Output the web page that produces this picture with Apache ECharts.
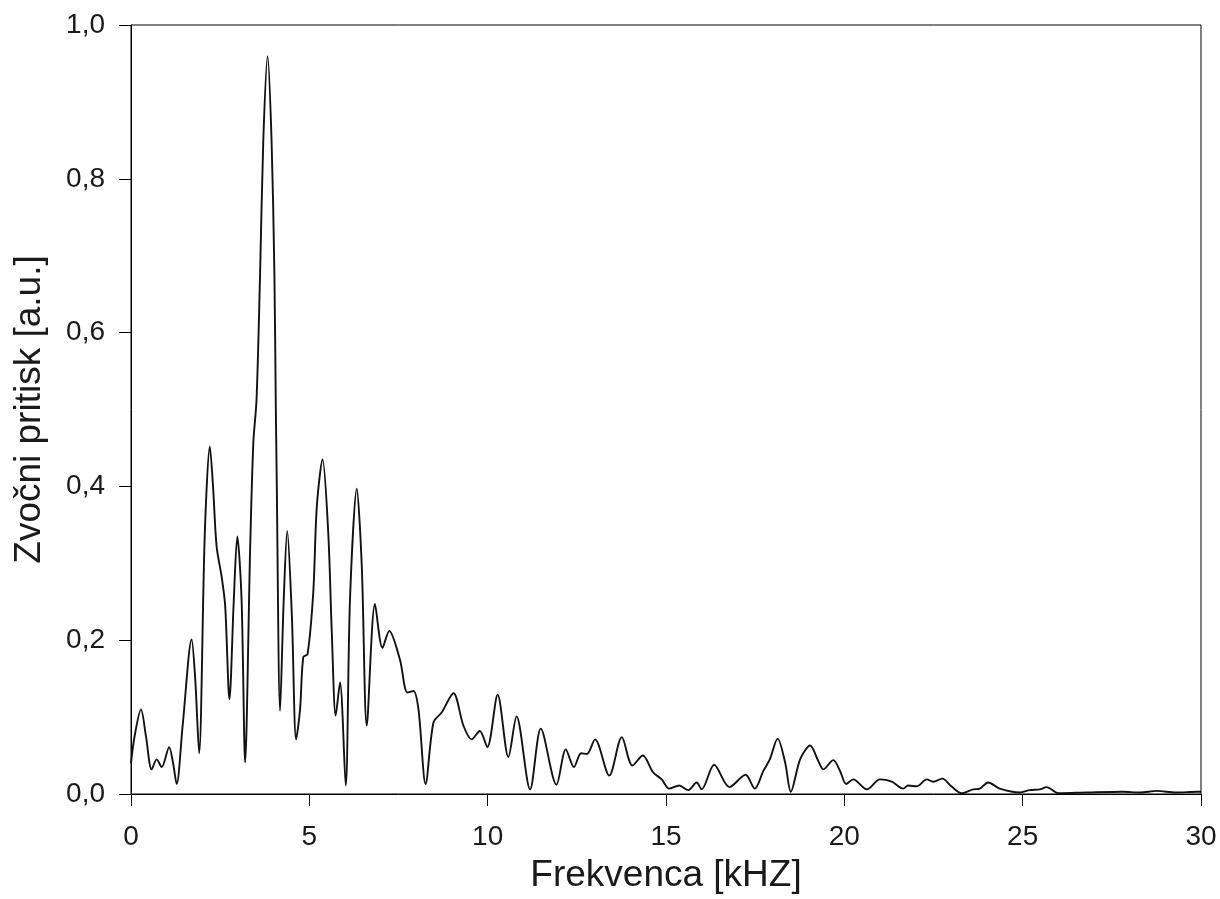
<!DOCTYPE html>
<html>
<head>
<meta charset="utf-8">
<script src="https://cdn.jsdelivr.net/npm/echarts@6/dist/echarts.min.js"></script>
<style>html,body{margin:0;padding:0;background:#fff;}#chart{width:1220px;height:899px;}</style>
</head>
<body>
<div id="chart"></div>
<script>
const freq = [0.0,0.1,0.28,0.42,0.58,0.72,0.86,1.07,1.18,1.28,1.45,1.70,1.80,1.91,2.07,2.21,2.30,2.40,2.54,2.64,2.76,2.88,2.98,3.10,3.20,3.34,3.43,3.52,3.62,3.71,3.83,3.94,4.02,4.06,4.08,4.18,4.28,4.38,4.51,4.63,4.74,4.83,4.95,5.11,5.21,5.37,5.53,5.63,5.74,5.86,6.02,6.14,6.33,6.47,6.61,6.84,7.05,7.24,7.54,7.75,7.92,8.06,8.26,8.48,8.71,9.04,9.32,9.55,9.78,9.99,10.28,10.58,10.81,11.19,11.49,11.93,12.19,12.42,12.62,12.78,13.01,13.41,13.76,14.06,14.35,14.64,14.88,15.09,15.37,15.62,15.86,16.00,16.35,16.78,17.23,17.49,17.73,17.91,18.13,18.34,18.50,18.76,19.04,19.27,19.41,19.69,19.88,20.05,20.25,20.63,21.00,21.33,21.65,21.79,22.03,22.31,22.49,22.75,23.00,23.29,23.61,23.80,24.03,24.36,24.92,25.20,25.48,25.67,26.00,26.8,27.8,28.3,28.75,29.3,29.9,30.0];
const pressure = [0.040,0.075,0.110,0.075,0.032,0.045,0.035,0.061,0.040,0.013,0.090,0.201,0.150,0.053,0.340,0.452,0.400,0.322,0.283,0.245,0.123,0.250,0.335,0.253,0.041,0.318,0.457,0.513,0.678,0.851,0.959,0.851,0.678,0.504,0.430,0.108,0.250,0.342,0.232,0.071,0.110,0.178,0.182,0.262,0.374,0.435,0.340,0.210,0.102,0.145,0.011,0.253,0.397,0.297,0.089,0.247,0.190,0.212,0.175,0.132,0.134,0.110,0.013,0.093,0.106,0.131,0.089,0.071,0.082,0.061,0.129,0.048,0.101,0.006,0.085,0.012,0.058,0.035,0.053,0.052,0.071,0.024,0.074,0.037,0.050,0.028,0.019,0.007,0.011,0.005,0.015,0.006,0.038,0.009,0.025,0.007,0.030,0.045,0.072,0.041,0.003,0.045,0.063,0.043,0.032,0.044,0.030,0.013,0.019,0.006,0.019,0.016,0.007,0.011,0.010,0.019,0.016,0.020,0.010,0.001,0.006,0.007,0.015,0.007,0.002,0.005,0.006,0.009,0.001,0.002,0.003,0.002,0.004,0.002,0.003,0.003];
const xTitle = 'Frekvenca [kHZ]';
const yTitle = 'Zvočni pritisk [a.u.]';

const FONT = '"Liberation Sans", Arial, sans-serif';
const chart = echarts.init(document.getElementById('chart'), null, {renderer: 'canvas'});
const data = freq.map((f, i) => [f, pressure[i]]);
chart.setOption({
  animation: false,
  backgroundColor: '#fff',
  grid: {left: 131, right: 19, top: 25, bottom: 104, show: true, borderColor: '#000', borderWidth: 1, backgroundColor: 'transparent'},
  xAxis: {
    type: 'value', min: 0, max: 30, interval: 5,
    name: xTitle, nameLocation: 'middle', nameGap: 63,
    nameTextStyle: {fontFamily: FONT, fontSize: 37, color: '#1a1a1a'},
    axisLine: {show: true, lineStyle: {color: '#000', width: 1}},
    axisTick: {show: true, inside: false, length: 12, lineStyle: {color: '#000', width: 1}},
    axisLabel: {fontFamily: FONT, fontSize: 28, color: '#1a1a1a', margin: 29},
    splitLine: {show: false}
  },
  yAxis: {
    type: 'value', min: 0, max: 1, interval: 0.2,
    name: yTitle, nameLocation: 'middle', nameGap: 83, nameRotate: 90,
    nameTextStyle: {fontFamily: FONT, fontSize: 37, color: '#1a1a1a'},
    axisLine: {show: true, lineStyle: {color: '#000', width: 1}},
    axisTick: {show: true, inside: false, length: 12, lineStyle: {color: '#000', width: 1}},
    axisLabel: {fontFamily: FONT, fontSize: 28, color: '#1a1a1a', margin: 26,
      formatter: v => v.toFixed(1).replace('.', ',')},
    splitLine: {show: false}
  },
  series: [{
    type: 'line', data: data, showSymbol: false, smooth: 0.3,
    lineStyle: {color: '#111', width: 1.9}
  }]
});
</script>
</body>
</html>
